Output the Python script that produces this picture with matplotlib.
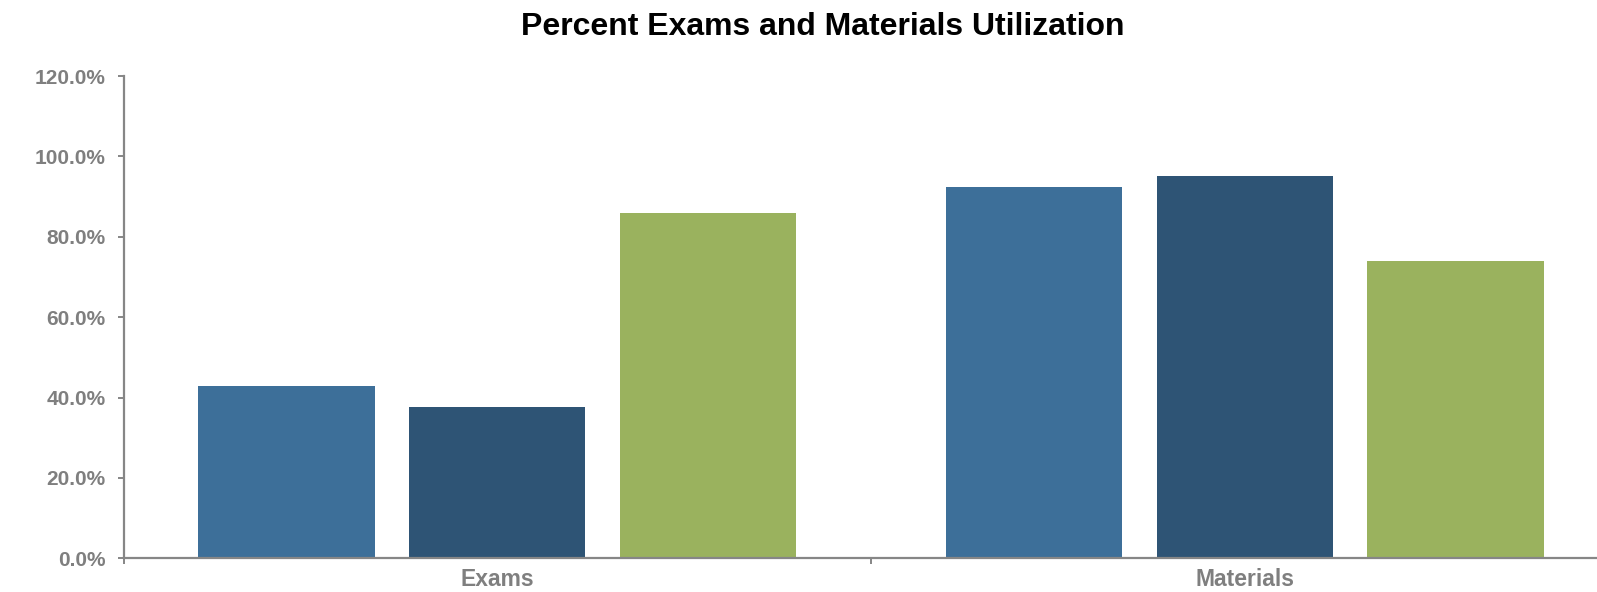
import numpy as np
import matplotlib
matplotlib.use("Agg")
import matplotlib.pyplot as plt
from matplotlib.ticker import FuncFormatter, FixedLocator

plt.rcParams['font.family'] = ['Liberation Sans', 'DejaVu Sans']

categories = ['Exams', 'Materials']
series_a = [42.8, 92.5]
series_b = [37.7, 95.0]
series_c = [86.0, 74.0]
colors = ['#3D6F99', '#2E5475', '#9AB25E']
yticks = [0, 20, 40, 60, 80, 100, 120]

W, H = 1597, 592
fig = plt.figure(figsize=(W / 100, H / 100), dpi=100)
ax = fig.add_axes([123.5 / W, (H - 558.3) / H, 1495 / W, (558.3 - 76) / H])

x = np.arange(len(categories))
step, width = 0.282, 0.236
for off, vals, c in zip([-step, 0, step], [series_a, series_b, series_c], colors):
    ax.bar(x + off, vals, width, color=c, zorder=2)

ax.set_xlim(-0.5, 1.5)
ax.set_ylim(0, 120)
ax.set_yticks(yticks)
ax.yaxis.set_major_formatter(FuncFormatter(lambda v, p: f'{v:.1f}%'))
ax.set_xticks(x)
ax.set_xticklabels(categories)
ax.xaxis.set_minor_locator(FixedLocator([-0.5, 0.5, 1.5]))

gray = '#868686'
for s in ['top', 'right']:
    ax.spines[s].set_visible(False)
for s in ['left', 'bottom']:
    ax.spines[s].set_color(gray)
    ax.spines[s].set_linewidth(1.6)
    ax.spines[s].set_zorder(3)

ax.tick_params(axis='y', length=4, width=1.4, color=gray, pad=9,
               labelsize=15, labelcolor='#7F7F7F')
ax.tick_params(axis='x', which='major', length=0, pad=7,
               labelsize=16.5, labelcolor='#7F7F7F')
ax.tick_params(axis='x', which='minor', length=4, width=1.4, color=gray)
for lab in ax.get_yticklabels() + ax.get_xticklabels():
    lab.set_fontweight('bold')

fig.text(823 / W, 1 - 27 / H, 'Percent Exams and Materials Utilization',
         ha='center', va='center', fontsize=23, fontweight='bold', color='black')

fig.savefig('out.png', dpi=100)
